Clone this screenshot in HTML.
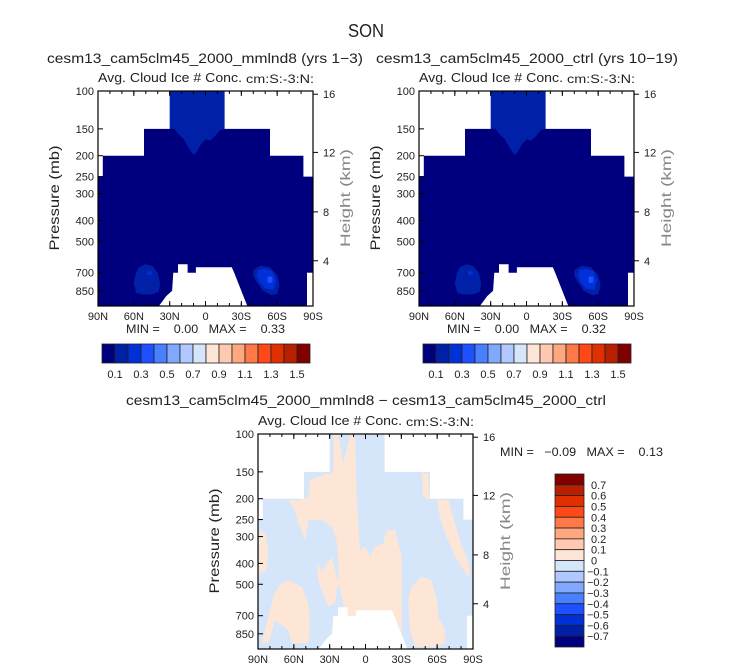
<!DOCTYPE html>
<html><head><meta charset="utf-8">
<style>
html,body{margin:0;padding:0;background:#fff;}
svg{display:block;font-family:"Liberation Sans",sans-serif;}
text{white-space:pre;}
</style></head>
<body>
<svg id="chart" width="733" height="672" viewBox="0 0 733 672" xmlns="http://www.w3.org/2000/svg">
<text x="366" y="37" font-size="18" text-anchor="middle" fill="#222" textLength="36" lengthAdjust="spacingAndGlyphs">SON</text>
</svg>
<script>
// ---- data ----
const latTicks = [90, 60, 30, 0, -30, -60, -90];
const latTickLabels = ['90N','60N','30N','0','30S','60S','90S'];
const presTicks = [100,150,200,250,300,400,500,700,850];
const heightTicks = [16,12,8,4];
const heightTickP = [103.5,193,365,616]; // pressure at which each height tick sits
const levelColors = ['#00007F','#0020A8','#0030D8','#1E50FF','#4880FF','#80A8FF','#B0C8FF','#D6E6FA','#FDE6D6','#FFC8B0','#FFA880','#FF7848','#FF4818','#E03000','#B82000','#800000'];
const topBarLabels = ['0.1','0.3','0.5','0.7','0.9','1.1','1.3','1.5'];
const diffBarLabels = ['0.7','0.6','0.5','0.4','0.3','0.2','0.1','0','\u22120.1','\u22120.2','\u22120.3','\u22120.4','\u22120.5','\u22120.6','\u22120.7'];
const panelMin = ['0.00','0.00','\u22120.09'];
const panelMax = ['0.33','0.32','0.13'];
// missing-data masks (lat, pressure)
const maskNLat = [90,30,30,51.5,51.5,86,86,90];
const maskNP   = [100,100,150,150,200,200,250,250];
const maskSLat = [-16,-90,-90,-82,-82,-54,-54,-16];
const maskSP   = [100,100,250,250,200,200,150,150];
const groundLat = [39,33,28,27,23,23,15,15,8,8,-22,-24,-30,-35];
const groundP   = [1000,900,850,700,700,640,640,700,700,660,660,700,850,1000];
const poleLat = [-85,-85,-90,-90];
const poleP   = [1000,700,700,1000];
// upper-tropospheric ice region (value ~0.15)
const upperLat = [30,-16,-16,-12,-8,-4,0,4,8,10,14,18,22,26,30];
const upperP   = [100,100,150,152,162,170,168,178,195,198,185,168,160,150,150];
// mid-latitude low-level maxima
const blobNLat = [56,50,44,40,38,39,44,52,58,60,58];
const blobNP   = [660,640,655,700,780,860,880,885,870,780,700];
const blobNCoreLat=[49,45,45,49]; const blobNCoreP=[690,690,715,715];
const blobSLat = [-40,-46,-54,-60,-62,-60,-55,-48,-42,-40];
const blobSP   = [680,650,660,720,800,880,890,850,760,720];
const blobSInLat = [-44,-50,-56,-59,-57,-50,-45,-43];
const blobSInP   = [680,670,690,760,840,830,770,720];
const blobSCoreLat=[-52,-56,-56,-52]; const blobSCoreP=[730,730,780,780];
// difference-plot positive patches
const diffPatchLat = [
 [26.9,22.7,18.6,13.0,8.8,7.4,4.6,0.4,-3.8,-8,-14.9,-17.7,-24.7,-30.3,-30.3,17.2,18.6,22.7,22.7,24.1,28.3,36.7,47.9,50.6,56.2,59,64.6,56.2,47.9,46.5,39.5,26.9],
 [-38.6,-47,-55.4,-59.6,-61,-66.5,-66.5,-58.2,-41.4,-37.2,-35.8],
 [-59.6,-69.3,-74.9,-80.5,-86,-87.5,-86,-74.9,-67.9,-62.3],
 [-47,-52.6,-54,-48.4],
 [73,64.6,53.4,47.9,46.5,47.9,61.8,64.6,75.8,81.3,86.9,81.3,77.2],
 [89.2,84.1,81.3,82.7,89.2],
 [40.9,36.7,28.3,22.7,25.5,31.1,36.7,39.5]
];
const diffPatchP = [
 [101,101,137,101,101,196,347,334,372,334,322,280,280,372,900,900,613,495,399,311,270,251,251,311,260,226,203,203,196,164,158,150],
 [513,461,478,592,707,816,941,977,977,816,592],
 [203,203,260,334,386,445,461,372,301,242],
 [152,152,203,196],
 [513,478,513,613,759,941,941,816,733,941,941,707,571],
 [280,290,347,430,445],
 [399,430,372,495,613,636,532,478]
];

// ---- helpers ----
const NS='http://www.w3.org/2000/svg';
const svg=document.getElementById('chart');
function mk(tag,attrs,parent){const e=document.createElementNS(NS,tag);for(const k in attrs)e.setAttribute(k,attrs[k]);(parent||svg).appendChild(e);return e;}
const W=215,H=215;
function xS(lat,x0){return x0+(90-lat)/180*W;}
function yS(p,y0){return y0+Math.log10(p/100)*H;}
function poly(lats,ps,x0,y0,fill,g,name){
  const pts=lats.map((l,i)=>xS(l,x0).toFixed(1)+','+yS(ps[i],y0).toFixed(1)).join(' ');
  const e=mk('polygon',{points:pts,fill:fill},g);
  
  
  return e;
}
function txt(s,x,y,size,anchor,g,name,fill,len){
  const t=mk('text',{x:x,y:y,'font-size':size,'text-anchor':anchor||'start',fill:fill||'#222'},g);
  if(len){t.setAttribute('textLength',len);t.setAttribute('lengthAdjust','spacingAndGlyphs');}
  t.textContent=s;
  
  
  return t;
}

function panel(x0,y0,idx,title,isDiff,titleX,titleLen,titleY){
  const g=mk('g',{});
  
  
  txt(title,titleX,titleY,14,'middle',g,'panel-title',null,titleLen);
  txt('Avg. Cloud Ice # Conc.',x0,y0-9,13,'start',g,'variable-label',null,144);
  txt('cm:S:-3:N:',x0+148,y0-8,12,'start',g,'units-label',null,68);
  const clip=mk('clipPath',{id:'clip'+idx},g);
  mk('rect',{x:x0,y:y0,width:W,height:H},clip);
  const f=mk('g',{'clip-path':'url(#clip'+idx+')'},g);
  
  
  const bg=mk('rect',{x:x0,y:y0,width:W,height:H,fill:isDiff?levelColors[7]:levelColors[0]},f);
  
  
  if(isDiff){
    diffPatchLat.forEach((la,i)=>poly(la,diffPatchP[i],x0,y0,levelColors[8],f,'positive-patch'));
  } else {
    poly(upperLat,upperP,x0,y0,levelColors[1],f,'upper-ice-region');
    poly(blobNLat,blobNP,x0,y0,levelColors[1],f,'north-maximum');
    poly(blobNCoreLat,blobNCoreP,x0,y0,levelColors[2],f,'north-maximum-core');
    poly(blobSLat,blobSP,x0,y0,levelColors[1],f,'south-maximum');
    poly(blobSInLat,blobSInP,x0,y0,levelColors[2],f,'south-maximum-inner');
    poly(blobSCoreLat,blobSCoreP,x0,y0,levelColors[3],f,'south-maximum-core');
  }
  poly(maskNLat,maskNP,x0,y0,'#fff',f,'missing-north');
  poly(maskSLat,maskSP,x0,y0,'#fff',f,'missing-south');
  poly(groundLat,groundP,x0,y0,'#fff',f,'surface-mask');
  poly(poleLat,poleP,x0,y0,'#fff',f,'polar-mask');
  const fr=mk('rect',{x:x0,y:y0,width:W,height:H,fill:'none',stroke:'#000','stroke-width':1.2},g);
  
  
  latTicks.forEach((l,i)=>{
    const x=xS(l,x0);
    mk('line',{x1:x,y1:y0+H,x2:x,y2:y0+H-5,stroke:'#000'},g);
    mk('line',{x1:x,y1:y0,x2:x,y2:y0+5,stroke:'#000'},g);
    txt(latTickLabels[i],x,y0+H+14,11,'middle',g,'x-tick-label');
  });
  for(let l=90;l>=-90;l-=10){const x=xS(l,x0);
    mk('line',{x1:x,y1:y0+H,x2:x,y2:y0+H-3,stroke:'#000'},g);
    mk('line',{x1:x,y1:y0,x2:x,y2:y0+3,stroke:'#000'},g);}
  presTicks.forEach(p=>{const y=yS(p,y0);
    mk('line',{x1:x0,y1:y,x2:x0+5,y2:y,stroke:'#000'},g);
    txt(String(p),x0-4,y+4,11,'end',g,'y-tick-label');});
  heightTicks.forEach((h,i)=>{const y=yS(heightTickP[i],y0);
    mk('line',{x1:x0+W,y1:y,x2:x0+W+5,y2:y,stroke:'#000'},g);
    txt(String(h),x0+W+10,y+4,11,'start',g,'height-tick-label');});
  const yt=txt('Pressure (mb)',0,0,14,'middle',g,'y-axis-title',null,105);
  yt.setAttribute('transform','translate('+(x0-39)+','+(y0+107)+') rotate(-90)');
  const ht=txt('Height (km)',0,0,14,'middle',g,'height-axis-title','#888',98);
  ht.setAttribute('transform','translate('+(x0+W+37)+','+(y0+107)+') rotate(-90)');
  return g;
}

[[98,'cesm13_cam5clm45_2000_mmlnd8 (yrs 1\u22123)',205,316],[419,'cesm13_cam5clm45_2000_ctrl (yrs 10\u221219)',527,302]].forEach((d,i)=>{
  const x0=d[0], y0=91;
  const g=panel(x0,y0,i,d[1],false,d[2],d[3],63);
  txt('MIN =    '+panelMin[i]+'   MAX =    '+panelMax[i],x0+28,y0+H+27,12,'start',g,'min-max-label',null,159);
  const cb=mk('g',{},g);
  
  
  const bx=x0+4,bw=208/16;
  levelColors.forEach((c,k)=>{const r=mk('rect',{x:bx+k*bw,y:344,width:bw,height:19,fill:c,stroke:'#222','stroke-width':0.8},cb);
    
    });
  topBarLabels.forEach((s,k)=>txt(s,bx+(2*k+1)*bw,378,11,'middle',cb,'colorbar-label'));
});

(function(){
  const x0=258,y0=434;
  const g=panel(x0,y0,2,'cesm13_cam5clm45_2000_mmlnd8 \u2212 cesm13_cam5clm45_2000_ctrl',true,366,480,405);
  txt('MIN =   '+panelMin[2]+'   MAX =    '+panelMax[2],500,456,12,'start',g,'min-max-label',null,163);
  const cb=mk('g',{},g);
  
  
  const by=474,bh=173/16;
  levelColors.slice().reverse().forEach((c,k)=>{const r=mk('rect',{x:555,y:by+k*bh,width:29,height:bh,fill:c,stroke:'#222','stroke-width':0.8},cb);
    
    });
  diffBarLabels.forEach((s,k)=>txt(s,s.charAt(0)==='\u2212'?587:591,by+(k+1)*bh+4,11,'start',cb,'colorbar-label'));
})();
</script>
</body></html>
